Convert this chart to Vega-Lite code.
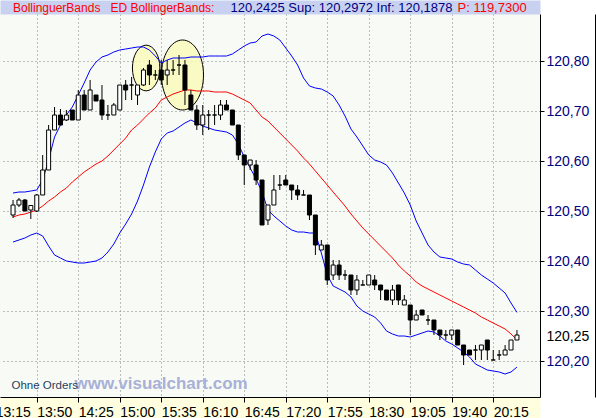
{
  "$schema": "https://vega.github.io/schema/vega-lite/v6.json",
  "autosize": {"type": "none"},
  "padding": {"left": 0, "top": 14, "right": 56, "bottom": 21},
  "width": 540,
  "height": 383,
  "background": "white",
  "config": {"view": {"fill": "#f8fbf5", "stroke": null}, "font": "Liberation Sans"},
  "title": {"text": "BollinguerBands\u00a0\u00a0 ED BollingerBands:", "anchor": "start", "frame": "group", "dx": 13, "offset": -13.5, "fontSize": 12, "fontWeight": "normal", "color": "#ff0000", "font": "Liberation Sans"},
  "datasets": {
    "bars": [
      {"t":"2024-01-15T13:30","o":120.492,"h":120.522,"l":120.486,"c":120.512,"up":120.536,"mid":120.488,"lo":120.438},
      {"t":"2024-01-15T13:35","o":120.512,"h":120.526,"l":120.508,"c":120.522,"up":120.538,"mid":120.492,"lo":120.442},
      {"t":"2024-01-15T13:40","o":120.522,"h":120.524,"l":120.500,"c":120.500,"up":120.538,"mid":120.494,"lo":120.446},
      {"t":"2024-01-15T13:45","o":120.502,"h":120.512,"l":120.484,"c":120.511,"up":120.540,"mid":120.498,"lo":120.452},
      {"t":"2024-01-15T13:50","o":120.500,"h":120.534,"l":120.498,"c":120.532,"up":120.542,"mid":120.502,"lo":120.456},
      {"t":"2024-01-15T13:55","o":120.532,"h":120.612,"l":120.532,"c":120.582,"up":120.562,"mid":120.510,"lo":120.450},
      {"t":"2024-01-15T14:00","o":120.582,"h":120.672,"l":120.582,"c":120.662,"up":120.602,"mid":120.520,"lo":120.430},
      {"t":"2024-01-15T14:05","o":120.662,"h":120.708,"l":120.662,"c":120.692,"up":120.648,"mid":120.528,"lo":120.412},
      {"t":"2024-01-15T14:10","o":120.692,"h":120.704,"l":120.672,"c":120.672,"up":120.672,"mid":120.538,"lo":120.406},
      {"t":"2024-01-15T14:15","o":120.682,"h":120.702,"l":120.680,"c":120.692,"up":120.692,"mid":120.546,"lo":120.400},
      {"t":"2024-01-15T14:20","o":120.702,"h":120.702,"l":120.682,"c":120.682,"up":120.708,"mid":120.558,"lo":120.398},
      {"t":"2024-01-15T14:25","o":120.682,"h":120.742,"l":120.682,"c":120.732,"up":120.732,"mid":120.568,"lo":120.396},
      {"t":"2024-01-15T14:30","o":120.732,"h":120.742,"l":120.702,"c":120.702,"up":120.756,"mid":120.578,"lo":120.396},
      {"t":"2024-01-15T14:35","o":120.702,"h":120.762,"l":120.702,"c":120.742,"up":120.782,"mid":120.586,"lo":120.398},
      {"t":"2024-01-15T14:40","o":120.732,"h":120.732,"l":120.720,"c":120.720,"up":120.798,"mid":120.594,"lo":120.400},
      {"t":"2024-01-15T14:45","o":120.722,"h":120.752,"l":120.682,"c":120.692,"up":120.808,"mid":120.600,"lo":120.406},
      {"t":"2024-01-15T14:50","o":120.692,"h":120.712,"l":120.682,"c":120.692,"up":120.812,"mid":120.610,"lo":120.418},
      {"t":"2024-01-15T14:55","o":120.692,"h":120.716,"l":120.692,"c":120.712,"up":120.818,"mid":120.622,"lo":120.434},
      {"t":"2024-01-15T15:00","o":120.702,"h":120.752,"l":120.702,"c":120.752,"up":120.822,"mid":120.634,"lo":120.456},
      {"t":"2024-01-15T15:05","o":120.752,"h":120.762,"l":120.722,"c":120.742,"up":120.824,"mid":120.646,"lo":120.474},
      {"t":"2024-01-15T15:10","o":120.752,"h":120.768,"l":120.722,"c":120.752,"up":120.826,"mid":120.662,"lo":120.494},
      {"t":"2024-01-15T15:15","o":120.732,"h":120.752,"l":120.712,"c":120.752,"up":120.828,"mid":120.672,"lo":120.520},
      {"t":"2024-01-15T15:20","o":120.752,"h":120.786,"l":120.750,"c":120.782,"up":120.828,"mid":120.684,"lo":120.552},
      {"t":"2024-01-15T15:25","o":120.792,"h":120.802,"l":120.752,"c":120.772,"up":120.822,"mid":120.696,"lo":120.588},
      {"t":"2024-01-15T15:30","o":120.772,"h":120.782,"l":120.762,"c":120.772,"up":120.810,"mid":120.706,"lo":120.618},
      {"t":"2024-01-15T15:35","o":120.782,"h":120.802,"l":120.752,"c":120.762,"up":120.796,"mid":120.722,"lo":120.644},
      {"t":"2024-01-15T15:40","o":120.772,"h":120.802,"l":120.752,"c":120.782,"up":120.802,"mid":120.728,"lo":120.656},
      {"t":"2024-01-15T15:45","o":120.782,"h":120.802,"l":120.772,"c":120.782,"up":120.806,"mid":120.734,"lo":120.660},
      {"t":"2024-01-15T15:50","o":120.792,"h":120.812,"l":120.772,"c":120.792,"up":120.806,"mid":120.738,"lo":120.668},
      {"t":"2024-01-15T15:55","o":120.792,"h":120.802,"l":120.712,"c":120.742,"up":120.806,"mid":120.742,"lo":120.676},
      {"t":"2024-01-15T16:00","o":120.732,"h":120.742,"l":120.702,"c":120.702,"up":120.808,"mid":120.742,"lo":120.682},
      {"t":"2024-01-15T16:05","o":120.702,"h":120.712,"l":120.662,"c":120.672,"up":120.808,"mid":120.740,"lo":120.676},
      {"t":"2024-01-15T16:10","o":120.672,"h":120.712,"l":120.652,"c":120.692,"up":120.808,"mid":120.740,"lo":120.670},
      {"t":"2024-01-15T16:15","o":120.692,"h":120.702,"l":120.662,"c":120.692,"up":120.810,"mid":120.740,"lo":120.666},
      {"t":"2024-01-15T16:20","o":120.692,"h":120.712,"l":120.672,"c":120.692,"up":120.810,"mid":120.738,"lo":120.662},
      {"t":"2024-01-15T16:25","o":120.692,"h":120.722,"l":120.682,"c":120.712,"up":120.810,"mid":120.738,"lo":120.660},
      {"t":"2024-01-15T16:30","o":120.712,"h":120.722,"l":120.702,"c":120.702,"up":120.810,"mid":120.738,"lo":120.658},
      {"t":"2024-01-15T16:35","o":120.702,"h":120.702,"l":120.672,"c":120.672,"up":120.814,"mid":120.734,"lo":120.652},
      {"t":"2024-01-15T16:40","o":120.672,"h":120.672,"l":120.602,"c":120.612,"up":120.822,"mid":120.728,"lo":120.634},
      {"t":"2024-01-15T16:45","o":120.612,"h":120.612,"l":120.552,"c":120.592,"up":120.830,"mid":120.722,"lo":120.608},
      {"t":"2024-01-15T16:50","o":120.592,"h":120.602,"l":120.582,"c":120.602,"up":120.836,"mid":120.716,"lo":120.586},
      {"t":"2024-01-15T16:55","o":120.592,"h":120.602,"l":120.552,"c":120.562,"up":120.838,"mid":120.702,"lo":120.564},
      {"t":"2024-01-15T17:00","o":120.562,"h":120.562,"l":120.472,"c":120.472,"up":120.850,"mid":120.688,"lo":120.538},
      {"t":"2024-01-15T17:05","o":120.482,"h":120.512,"l":120.472,"c":120.512,"up":120.854,"mid":120.680,"lo":120.502},
      {"t":"2024-01-15T17:10","o":120.512,"h":120.572,"l":120.512,"c":120.542,"up":120.850,"mid":120.668,"lo":120.490},
      {"t":"2024-01-15T17:15","o":120.552,"h":120.572,"l":120.542,"c":120.552,"up":120.842,"mid":120.656,"lo":120.480},
      {"t":"2024-01-15T17:20","o":120.562,"h":120.572,"l":120.552,"c":120.552,"up":120.826,"mid":120.644,"lo":120.470},
      {"t":"2024-01-15T17:25","o":120.552,"h":120.552,"l":120.522,"c":120.542,"up":120.810,"mid":120.632,"lo":120.462},
      {"t":"2024-01-15T17:30","o":120.542,"h":120.552,"l":120.522,"c":120.532,"up":120.792,"mid":120.620,"lo":120.458},
      {"t":"2024-01-15T17:35","o":120.532,"h":120.542,"l":120.532,"c":120.532,"up":120.766,"mid":120.606,"lo":120.458},
      {"t":"2024-01-15T17:40","o":120.532,"h":120.532,"l":120.482,"c":120.492,"up":120.750,"mid":120.594,"lo":120.456},
      {"t":"2024-01-15T17:45","o":120.492,"h":120.492,"l":120.412,"c":120.432,"up":120.746,"mid":120.580,"lo":120.456},
      {"t":"2024-01-15T17:50","o":120.422,"h":120.442,"l":120.422,"c":120.432,"up":120.744,"mid":120.566,"lo":120.416},
      {"t":"2024-01-15T17:55","o":120.432,"h":120.432,"l":120.352,"c":120.362,"up":120.738,"mid":120.552,"lo":120.372},
      {"t":"2024-01-15T18:00","o":120.372,"h":120.402,"l":120.362,"c":120.392,"up":120.730,"mid":120.538,"lo":120.350},
      {"t":"2024-01-15T18:05","o":120.392,"h":120.402,"l":120.362,"c":120.372,"up":120.712,"mid":120.524,"lo":120.344},
      {"t":"2024-01-15T18:10","o":120.372,"h":120.382,"l":120.362,"c":120.372,"up":120.690,"mid":120.510,"lo":120.338},
      {"t":"2024-01-15T18:15","o":120.372,"h":120.372,"l":120.332,"c":120.342,"up":120.664,"mid":120.494,"lo":120.328},
      {"t":"2024-01-15T18:20","o":120.342,"h":120.372,"l":120.332,"c":120.362,"up":120.648,"mid":120.480,"lo":120.310},
      {"t":"2024-01-15T18:25","o":120.352,"h":120.362,"l":120.352,"c":120.352,"up":120.630,"mid":120.466,"lo":120.300},
      {"t":"2024-01-15T18:30","o":120.352,"h":120.372,"l":120.352,"c":120.372,"up":120.612,"mid":120.454,"lo":120.294},
      {"t":"2024-01-15T18:35","o":120.362,"h":120.372,"l":120.342,"c":120.352,"up":120.602,"mid":120.442,"lo":120.288},
      {"t":"2024-01-15T18:40","o":120.352,"h":120.352,"l":120.322,"c":120.342,"up":120.598,"mid":120.430,"lo":120.276},
      {"t":"2024-01-15T18:45","o":120.342,"h":120.342,"l":120.322,"c":120.322,"up":120.592,"mid":120.418,"lo":120.260},
      {"t":"2024-01-15T18:50","o":120.322,"h":120.352,"l":120.312,"c":120.342,"up":120.576,"mid":120.406,"lo":120.254},
      {"t":"2024-01-15T18:55","o":120.352,"h":120.352,"l":120.312,"c":120.322,"up":120.556,"mid":120.392,"lo":120.250},
      {"t":"2024-01-15T19:00","o":120.312,"h":120.332,"l":120.312,"c":120.322,"up":120.536,"mid":120.380,"lo":120.250},
      {"t":"2024-01-15T19:05","o":120.312,"h":120.312,"l":120.252,"c":120.282,"up":120.512,"mid":120.370,"lo":120.248},
      {"t":"2024-01-15T19:10","o":120.282,"h":120.302,"l":120.282,"c":120.292,"up":120.480,"mid":120.358,"lo":120.252},
      {"t":"2024-01-15T19:15","o":120.302,"h":120.302,"l":120.292,"c":120.292,"up":120.456,"mid":120.350,"lo":120.256},
      {"t":"2024-01-15T19:20","o":120.282,"h":120.292,"l":120.272,"c":120.282,"up":120.432,"mid":120.344,"lo":120.260},
      {"t":"2024-01-15T19:25","o":120.282,"h":120.282,"l":120.252,"c":120.262,"up":120.418,"mid":120.338,"lo":120.258},
      {"t":"2024-01-15T19:30","o":120.262,"h":120.262,"l":120.242,"c":120.252,"up":120.408,"mid":120.332,"lo":120.250},
      {"t":"2024-01-15T19:35","o":120.252,"h":120.262,"l":120.242,"c":120.252,"up":120.406,"mid":120.326,"lo":120.240},
      {"t":"2024-01-15T19:40","o":120.252,"h":120.262,"l":120.242,"c":120.262,"up":120.404,"mid":120.320,"lo":120.234},
      {"t":"2024-01-15T19:45","o":120.262,"h":120.262,"l":120.232,"c":120.232,"up":120.398,"mid":120.314,"lo":120.226},
      {"t":"2024-01-15T19:50","o":120.232,"h":120.232,"l":120.192,"c":120.212,"up":120.394,"mid":120.308,"lo":120.218},
      {"t":"2024-01-15T19:55","o":120.222,"h":120.222,"l":120.212,"c":120.212,"up":120.392,"mid":120.302,"lo":120.208},
      {"t":"2024-01-15T20:00","o":120.222,"h":120.232,"l":120.202,"c":120.222,"up":120.382,"mid":120.296,"lo":120.194},
      {"t":"2024-01-15T20:05","o":120.222,"h":120.232,"l":120.202,"c":120.232,"up":120.372,"mid":120.288,"lo":120.188},
      {"t":"2024-01-15T20:10","o":120.242,"h":120.242,"l":120.202,"c":120.222,"up":120.364,"mid":120.282,"lo":120.182},
      {"t":"2024-01-15T20:15","o":120.202,"h":120.222,"l":120.202,"c":120.202,"up":120.356,"mid":120.276,"lo":120.180},
      {"t":"2024-01-15T20:20","o":120.212,"h":120.222,"l":120.202,"c":120.212,"up":120.346,"mid":120.270,"lo":120.178},
      {"t":"2024-01-15T20:25","o":120.212,"h":120.232,"l":120.212,"c":120.222,"up":120.336,"mid":120.264,"lo":120.174},
      {"t":"2024-01-15T20:30","o":120.222,"h":120.242,"l":120.222,"c":120.242,"up":120.316,"mid":120.254,"lo":120.178},
      {"t":"2024-01-15T20:35","o":120.242,"h":120.262,"l":120.242,"c":120.252,"up":120.2972,"mid":120.2425,"lo":120.1878}
    ],
    "zones": [
      {"t":"2024-01-15T15:22:15","mid":120.786,"span":0.0914},
      {"t":"2024-01-15T15:52:55","mid":120.772,"span":0.14}
    ]
  },
  "resolve": {"axis": {"x": "independent", "y": "independent"}},
  "layer": [
    {
      "data": {"name": "zones"},
      "mark": {"type": "point", "shape": "M -0.6 0 A 0.6 1 0 1 0 0.6 0 A 0.6 1 0 1 0 -0.6 0 Z", "filled": true, "fill": "#fafab8", "fillOpacity": 0.8, "stroke": "black", "strokeWidth": 1, "opacity": 1},
      "encoding": {
        "x": {"field": "t", "type": "temporal",
          "scale": {"domain": [{"year":2024,"month":1,"date":15,"hours":13,"minutes":23,"seconds":13},{"year":2024,"month":1,"date":15,"hours":20,"minutes":50,"seconds":13}], "nice": false},
          "axis": {"orient": "top", "offset": 7, "domain": true, "domainColor": "#c8d2f0", "domainWidth": 14, "ticks": false, "labels": false, "grid": false,
            "title": "120,2425 Sup: 120,2972 Inf: 120,1878", "titleX": 230, "titleY": 4, "titleAlign": "left", "titleBaseline": "alphabetic", "titleFontSize": 13, "titleFontWeight": "normal", "titleColor": "#000080", "titleFont": "Liberation Sans"}},
        "y": {"field": "mid", "type": "quantitative",
          "scale": {"domain": [120.128, 120.894], "nice": false, "zero": false},
          "axis": {"orient": "left", "domain": false, "ticks": false, "labels": false, "grid": false,
            "title": "Ohne Orders", "titleX": 11, "titleY": 374, "titleAngle": 0, "titleAlign": "left", "titleBaseline": "alphabetic", "titleFontSize": 11.5, "titleFontWeight": "normal", "titleColor": "#1f3f5f", "titleFont": "Liberation Sans"}},
        "size": {"field": "span", "type": "quantitative", "scale": {"type": "pow", "exponent": 2, "domain": [0, 0.14], "range": [0, 4900]}, "legend": null}
      }
    },
    {
      "data": {"name": "bars"},
      "mark": {"type": "line", "color": "#0000ff", "strokeWidth": 1},
      "encoding": {
        "x": {"field": "t", "type": "temporal",
          "axis": {"orient": "bottom", "offset": 10.5, "domain": true, "domainColor": "#ffffe0", "domainWidth": 21, "ticks": false, "labels": false, "grid": false, "title": null}},
        "y": {"field": "up", "type": "quantitative",
          "axis": {"orient": "right", "offset": 55, "domain": true, "domainColor": "black", "domainWidth": 1, "ticks": false, "labels": false, "grid": false, "title": null}}
      }
    },
    {
      "data": {"name": "bars"},
      "mark": {"type": "line", "color": "#ff0000", "strokeWidth": 1},
      "encoding": {"x": {"field": "t", "type": "temporal", "axis": null}, "y": {"field": "mid", "type": "quantitative", "axis": null}}
    },
    {
      "data": {"name": "bars"},
      "mark": {"type": "line", "color": "#0000ff", "strokeWidth": 1},
      "encoding": {"x": {"field": "t", "type": "temporal", "axis": null}, "y": {"field": "lo", "type": "quantitative", "axis": null}}
    },
    {
      "data": {"name": "bars"},
      "mark": {"type": "rule", "color": "black", "strokeWidth": 1},
      "encoding": {
        "x": {"field": "t", "type": "temporal",
          "scale": {"domain": [{"year":2024,"month":1,"date":15,"hours":13,"minutes":23,"seconds":13},{"year":2024,"month":1,"date":15,"hours":20,"minutes":50,"seconds":13}], "nice": false},
          "axis": {"orient": "bottom", "offset": 0, "format": "%H:%M",
            "values": [
              {"year":2024,"month":1,"date":15,"hours":13,"minutes":23,"seconds":14},
              {"year":2024,"month":1,"date":15,"hours":13,"minutes":50},
              {"year":2024,"month":1,"date":15,"hours":14,"minutes":25},
              {"year":2024,"month":1,"date":15,"hours":15,"minutes":0},
              {"year":2024,"month":1,"date":15,"hours":15,"minutes":35},
              {"year":2024,"month":1,"date":15,"hours":16,"minutes":10},
              {"year":2024,"month":1,"date":15,"hours":16,"minutes":45},
              {"year":2024,"month":1,"date":15,"hours":17,"minutes":20},
              {"year":2024,"month":1,"date":15,"hours":17,"minutes":55},
              {"year":2024,"month":1,"date":15,"hours":18,"minutes":30},
              {"year":2024,"month":1,"date":15,"hours":19,"minutes":5},
              {"year":2024,"month":1,"date":15,"hours":19,"minutes":40},
              {"year":2024,"month":1,"date":15,"hours":20,"minutes":15}
            ],
            "labelExpr": "datum.value < time(datetime(2024, 0, 15, 13, 30)) ? '13:15' : datum.label",
            "labelOffset": {"condition": {"test": "datum.value < time(datetime(2024, 0, 15, 13, 30))", "value": -9.8}, "value": 0},
            "labelAlign": "left", "labelFontSize": 14, "labelColor": "black", "labelPadding": 3, "labelFlush": false, "labelOverlap": false, "labelBound": false, "labelFont": "Liberation Sans",
            "tickSize": 5, "tickColor": "black",
            "tickOpacity": {"condition": {"test": "datum.value < time(datetime(2024, 0, 15, 13, 30))", "value": 0}, "value": 1},
            "domainColor": "black",
            "grid": true, "gridColor": "#808080", "gridDash": [1, 3],
            "gridOpacity": {"condition": {"test": "datum.value < time(datetime(2024, 0, 15, 13, 30))", "value": 0}, "value": 1},
            "title": "www.visualchart.com", "titleX": 74, "titleY": -9, "titleAlign": "left", "titleBaseline": "alphabetic", "titleFontSize": 17, "titleFontWeight": "bold", "titleColor": "#a8b0d8", "titleFont": "Liberation Sans"}},
        "y": {"field": "l", "type": "quantitative",
          "scale": {"domain": [120.128, 120.894], "nice": false, "zero": false},
          "axis": {"orient": "right", "offset": 0, "values": [120.2, 120.25, 120.3, 120.4, 120.5, 120.6, 120.7, 120.8],
            "labelExpr": "replace(format(datum.value, '.2f'), '.', ',')",
            "labelFontSize": 14, "labelFont": "Liberation Sans", "labelPadding": 2, "labelOverlap": false, "labelBound": false,
            "labelColor": {"condition": {"test": "abs(datum.value - 120.25) < 0.001", "value": "black"}, "value": "#000080"},
            "tickSize": 4, "tickColor": "black",
            "tickOpacity": {"condition": {"test": "abs(datum.value - 120.25) < 0.001", "value": 0}, "value": 1},
            "domainColor": "black",
            "grid": true, "gridColor": "#808080", "gridDash": [1, 3],
            "gridOpacity": {"condition": {"test": "abs(datum.value - 120.25) < 0.001", "value": 0}, "value": 1},
            "title": "P: 119,7300", "titleX": -83, "titleY": -3, "titleAngle": 0, "titleAlign": "left", "titleBaseline": "alphabetic", "titleFontSize": 13, "titleFontWeight": "normal", "titleColor": "#ff0000", "titleFont": "Liberation Sans"}},
        "y2": {"field": "h"}
      }
    },
    {
      "data": {"name": "bars"},
      "mark": {"type": "bar", "width": 4, "stroke": "black", "strokeWidth": 1},
      "encoding": {
        "x": {"field": "t", "type": "temporal", "axis": null},
        "y": {"field": "o", "type": "quantitative", "axis": null},
        "y2": {"field": "c"},
        "fill": {"condition": {"test": "datum.c >= datum.o", "value": "white"}, "value": "black"}
      }
    }
  ]
}
